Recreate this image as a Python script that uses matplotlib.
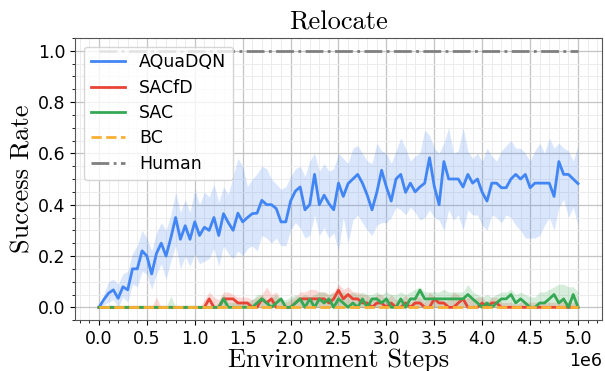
import matplotlib
matplotlib.use("Agg")
import matplotlib.pyplot as plt
from matplotlib.ticker import MultipleLocator, AutoMinorLocator
import numpy as np

steps = np.arange(101) * 0.05e6

aquadqn_mean = [0.0, 0.03, 0.055, 0.068, 0.035, 0.08, 0.068, 0.15, 0.15, 0.22,
                0.20, 0.13, 0.21, 0.25, 0.20, 0.27, 0.35, 0.265, 0.318, 0.265,
                0.333, 0.28, 0.312, 0.30, 0.35, 0.28, 0.365, 0.33, 0.30, 0.367,
                0.333, 0.35, 0.365, 0.367, 0.417, 0.40, 0.40, 0.385, 0.333, 0.333,
                0.414, 0.453, 0.469, 0.38, 0.40, 0.518, 0.40, 0.437, 0.404, 0.38,
                0.484, 0.432, 0.482, 0.50, 0.518, 0.484, 0.437, 0.38, 0.448, 0.534,
                0.469, 0.414, 0.50, 0.518, 0.448, 0.484, 0.45, 0.469, 0.484, 0.583,
                0.471, 0.40, 0.568, 0.50, 0.50, 0.50, 0.469, 0.518, 0.484, 0.50,
                0.448, 0.414, 0.484, 0.484, 0.466, 0.466, 0.50, 0.518, 0.50, 0.518,
                0.466, 0.484, 0.484, 0.484, 0.484, 0.432, 0.568, 0.518, 0.518, 0.50,
                0.482]
aquadqn_upper = [0.0, 0.05, 0.10, 0.11, 0.09, 0.13, 0.14, 0.21, 0.24, 0.30,
                 0.27, 0.22, 0.29, 0.33, 0.30, 0.36, 0.45, 0.37, 0.42, 0.37,
                 0.46, 0.40, 0.45, 0.43, 0.48, 0.41, 0.47, 0.44, 0.51, 0.58,
                 0.55, 0.47, 0.50, 0.52, 0.55, 0.54, 0.50, 0.48, 0.46, 0.47,
                 0.51, 0.54, 0.55, 0.51, 0.57, 0.60, 0.53, 0.56, 0.53, 0.54,
                 0.60, 0.58, 0.56, 0.62, 0.63, 0.60, 0.57, 0.56, 0.64, 0.61,
                 0.60, 0.56, 0.61, 0.66, 0.62, 0.57, 0.59, 0.60, 0.69, 0.67,
                 0.62, 0.60, 0.64, 0.70, 0.60, 0.61, 0.70, 0.61, 0.58, 0.60,
                 0.57, 0.62, 0.59, 0.57, 0.61, 0.63, 0.65, 0.62, 0.62, 0.60,
                 0.57, 0.61, 0.64, 0.60, 0.66, 0.62, 0.64, 0.62, 0.61, 0.57,
                 0.63]
aquadqn_lower = [0.0, 0.01, 0.02, 0.03, 0.0, 0.04, 0.02, 0.09, 0.08, 0.14,
                 0.13, 0.07, 0.13, 0.17, 0.11, 0.18, 0.24, 0.15, 0.20, 0.16,
                 0.21, 0.17, 0.18, 0.19, 0.23, 0.16, 0.24, 0.21, 0.19, 0.22,
                 0.20, 0.23, 0.24, 0.22, 0.28, 0.27, 0.25, 0.27, 0.24, 0.24,
                 0.30, 0.33, 0.31, 0.27, 0.28, 0.36, 0.28, 0.31, 0.27, 0.29,
                 0.22, 0.35, 0.25, 0.34, 0.36, 0.33, 0.30, 0.28, 0.32, 0.33,
                 0.33, 0.35, 0.39, 0.38, 0.36, 0.39, 0.37, 0.34, 0.35, 0.38,
                 0.35, 0.34, 0.30, 0.38, 0.34, 0.36, 0.30, 0.38, 0.36, 0.36,
                 0.32, 0.30, 0.36, 0.35, 0.33, 0.36, 0.35, 0.32, 0.30, 0.27,
                 0.27, 0.27, 0.28, 0.32, 0.35, 0.30, 0.39, 0.42, 0.35, 0.39,
                 0.32]

sacfd_mean = [0.0] * 23 + [0.033, 0.0, 0.0, 0.033, 0.033, 0.033, 0.017, 0.017, 0.017, 0.0,
              0.0, 0.033, 0.017, 0.033, 0.0, 0.0, 0.0, 0.0, 0.017, 0.033,
              0.033, 0.033, 0.033, 0.033, 0.033, 0.017, 0.033, 0.067, 0.033, 0.05,
              0.033, 0.033, 0.017, 0.017, 0.0, 0.017, 0.017, 0.0, 0.017, 0.0,
              0.0, 0.017, 0.0, 0.017, 0.017, 0.0, 0.0, 0.033, 0.017, 0.017,
              0.0, 0.0, 0.017, 0.033, 0.0, 0.0, 0.0, 0.017, 0.0, 0.017,
              0.017] + [0.0] * 17
sacfd_upper = [0.0] * 11 + [0.0, 0.04, 0.0, 0.0, 0.0, 0.0, 0.0, 0.0, 0.0, 0.0,
               0.0, 0.03, 0.06, 0.04, 0.03, 0.06, 0.06, 0.05, 0.04, 0.04,
               0.04, 0.03, 0.04, 0.05, 0.08, 0.05, 0.06, 0.03, 0.02, 0.03,
               0.04, 0.06, 0.06, 0.07, 0.07, 0.06, 0.06, 0.05, 0.06, 0.09,
               0.07, 0.08, 0.06, 0.06, 0.05, 0.05, 0.03, 0.05, 0.05, 0.03,
               0.05, 0.03, 0.03, 0.05, 0.02, 0.04, 0.04, 0.02, 0.06, 0.04,
               0.04, 0.02, 0.03, 0.06, 0.05, 0.03, 0.04, 0.03, 0.04, 0.04,
               0.02, 0.04, 0.04, 0.02, 0.02, 0.02, 0.01, 0.02, 0.02, 0.02,
               0.02, 0.02, 0.02, 0.02, 0.02, 0.02, 0.03, 0.02, 0.02, 0.02]

sac_mean = [0.0] * 26 + [0.033, 0.0, 0.0, 0.0, 0.0, 0.0, 0.0, 0.017, 0.033, 0.017,
            0.0, 0.017, 0.033, 0.0, 0.0, 0.017, 0.033, 0.0, 0.033, 0.0,
            0.033, 0.017, 0.033, 0.0, 0.033, 0.017, 0.0, 0.017, 0.0, 0.033,
            0.0, 0.033, 0.033, 0.017, 0.033, 0.0, 0.0, 0.033, 0.0, 0.033,
            0.033, 0.067, 0.033, 0.033, 0.033, 0.033, 0.033, 0.033, 0.033, 0.033,
            0.033, 0.05, 0.033, 0.017, 0.0, 0.017, 0.0, 0.017, 0.033, 0.033,
            0.05, 0.017, 0.033, 0.017, 0.0, 0.0, 0.017, 0.017, 0.033, 0.05,
            0.017, 0.033, 0.0, 0.05, 0.0]
sac_upper = [0.0] * 15 + [0.045] + [0.0] * 9 + [0.02,
             0.05, 0.02, 0.02, 0.02, 0.02, 0.02, 0.03, 0.05, 0.05, 0.03,
             0.04, 0.05, 0.03, 0.03, 0.04, 0.05, 0.04, 0.05, 0.04, 0.05,
             0.06, 0.06, 0.05, 0.06, 0.05, 0.06, 0.05, 0.06, 0.05, 0.06,
             0.05, 0.05, 0.06, 0.05, 0.06, 0.05, 0.05, 0.06, 0.05, 0.06,
             0.07, 0.08, 0.06, 0.06, 0.06, 0.06, 0.07, 0.06, 0.06, 0.06,
             0.06, 0.09, 0.06, 0.05, 0.04, 0.05, 0.04, 0.05, 0.06, 0.06,
             0.07, 0.05, 0.06, 0.05, 0.04, 0.04, 0.06, 0.06, 0.07, 0.08,
             0.09, 0.09, 0.08, 0.08, 0.06]

bc_mean = [0.0] * 101
human_level = 1.0

fig, ax = plt.subplots(figsize=(6.05, 3.71), dpi=100)
fig.subplots_adjust(left=0.124, right=0.995, bottom=0.137, top=0.898)

blue, red, green, orange, gray = "#4285f4", "#ea4335", "#34a853", "#fbb034", "#7f7f7f"

ax.fill_between(steps, aquadqn_lower, aquadqn_upper, color=blue, alpha=0.2, linewidth=0)
ax.fill_between(steps, 0, sacfd_upper, color=red, alpha=0.2, linewidth=0)
ax.fill_between(steps, 0, sac_upper, color=green, alpha=0.2, linewidth=0)

ax.plot(steps, aquadqn_mean, color=blue, lw=2, label="AQuaDQN")
ax.plot(steps, sacfd_mean, color=red, lw=2, label="SACfD")
ax.plot(steps, sac_mean, color=green, lw=2, label="SAC")
ax.plot(steps, bc_mean, color=orange, lw=2, ls="--", label="BC")
ax.plot(steps, [human_level] * len(steps), color=gray, lw=2, ls="-.", label="Human")

ax.xaxis.set_major_locator(MultipleLocator(0.5e6))
ax.xaxis.set_minor_locator(AutoMinorLocator(5))
ax.yaxis.set_minor_locator(AutoMinorLocator(4))
ax.grid(which="major", color="#c4c4c4", lw=0.9)
ax.grid(which="minor", color="#ececec", lw=0.7)
ax.set_axisbelow(True)
for s in ax.spines.values():
    s.set_color("#555555")
ax.tick_params(labelsize=12.5)
ax.xaxis.get_offset_text().set_fontsize(12.5)

ax.set_title("Relocate", fontfamily="cmr10", fontsize=19)
ax.set_xlabel("Environment Steps", fontfamily="cmr10", fontsize=19, labelpad=0)
ax.set_ylabel("Success Rate", fontfamily="cmr10", fontsize=19, labelpad=2)
ax.legend(loc="upper left", fontsize=12.5, handlelength=2.0, labelspacing=0.42)

plt.savefig("out.png")
